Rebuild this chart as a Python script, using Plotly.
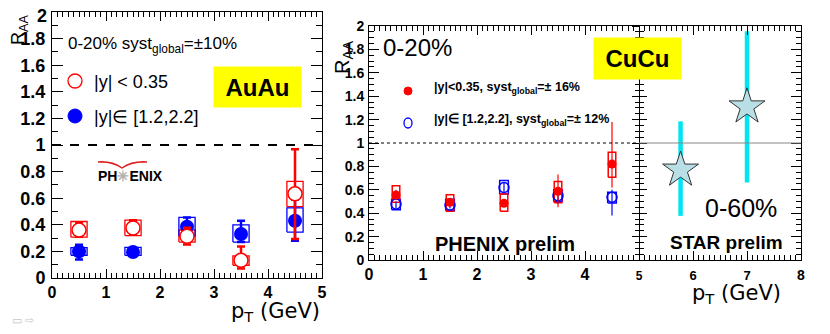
import plotly.graph_objects as go

# The page body has an 8px margin, so the figure is drawn 8px in from the top-left corner.
OFF = 8
W, H = 830 - OFF, 334 - OFF
def px(x): return (x - OFF) / W
def py(y): return 1 - (y - OFF) / H

# ---------------- data ----------------
pt = [0.5, 1.5, 2.5, 3.5, 4.5]

# AuAu 0-20%, |y|<0.35 (red open)
au_mid = [0.36, 0.376, 0.314, 0.133, 0.633]
au_mid_stat_hi = [0.42, 0.435, 0.378, 0.237, 0.968]
au_mid_stat_lo = [0.31, 0.326, 0.252, 0.072, 0.294]
au_mid_sys_hi = [0.425, 0.435, 0.361, 0.166, 0.726]
au_mid_sys_lo = [0.307, 0.319, 0.27, 0.096, 0.536]

# AuAu 0-20%, |y| in [1.2,2.2] (blue filled)
au_fwd = [0.2, 0.196, 0.385, 0.331, 0.43]
au_fwd_stat_hi = [0.25, 0.215, 0.455, 0.43, 0.59]
au_fwd_stat_lo = [0.14, 0.18, 0.33, 0.27, 0.28]
au_fwd_sys_hi = [0.228, 0.23, 0.456, 0.4, 0.527]
au_fwd_sys_lo = [0.171, 0.17, 0.315, 0.27, 0.345]

# CuCu 0-20%, |y|<0.35 (red filled)
cu_mid = [0.556, 0.493, 0.484, 0.587, 0.82]
cu_mid_stat_hi = [0.6, 0.52, 0.51, 0.73, 1.18]
cu_mid_stat_lo = [0.51, 0.46, 0.455, 0.45, 0.62]
cu_mid_sys_hi = [0.635, 0.558, 0.565, 0.67, 0.92]
cu_mid_sys_lo = [0.493, 0.416, 0.416, 0.49, 0.707]

# CuCu 0-20%, |y| in [1.2,2.2] (blue open)
cu_fwd = [0.479, 0.47, 0.62, 0.55, 0.536]
cu_fwd_stat_hi = [0.5, 0.5, 0.66, 0.62, 0.6]
cu_fwd_stat_lo = [0.445, 0.44, 0.58, 0.48, 0.38]
cu_fwd_sys_hi = [0.52, 0.52, 0.68, 0.6, 0.58]
cu_fwd_sys_lo = [0.43, 0.42, 0.564, 0.5, 0.487]

# STAR CuCu 0-60%
star_pt = [5.77, 7.0]
star_raa = [0.77, 1.31]
star_hi = [1.185, 1.956]
star_lo = [0.377, 0.662]

y_ticks = [0, 0.2, 0.4, 0.6, 0.8, 1, 1.2, 1.4, 1.6, 1.8, 2]
y_ticktext = ["0", "0.2", "0.4", "0.6", "0.8", "1", "1.2", "1.4", "1.6", "1.8", "2"]

RED = "#ff0000"
BLUE = "#0000ff"

def up(v, hi): return [h - a for a, h in zip(v, hi)]
def dn(v, lo): return [a - l for a, l in zip(v, lo)]

def boxes(xs, lo, hi, hw):
    bx, by = [], []
    for x, l, h in zip(xs, lo, hi):
        bx += [x - hw, x + hw, x + hw, x - hw, x - hw, None]
        by += [l, l, h, h, l, None]
    return bx, by

fig = go.Figure()

# ---- AuAu panel ----
for lo, hi, col in [(au_mid_sys_lo, au_mid_sys_hi, RED), (au_fwd_sys_lo, au_fwd_sys_hi, BLUE)]:
    bx, by = boxes(pt, lo, hi, 0.15)
    fig.add_trace(go.Scatter(x=bx, y=by, mode="lines", line=dict(color=col, width=1.3),
                             xaxis="x", yaxis="y", hoverinfo="skip", showlegend=False))

fig.add_trace(go.Scatter(x=pt, y=au_fwd, mode="markers", xaxis="x", yaxis="y", showlegend=False,
                         marker=dict(symbol="circle", size=14, color=BLUE),
                         error_y=dict(type="data", array=up(au_fwd, au_fwd_stat_hi),
                                      arrayminus=dn(au_fwd, au_fwd_stat_lo),
                                      color=BLUE, thickness=2.5, width=4)))
fig.add_trace(go.Scatter(x=pt, y=au_mid, mode="markers", xaxis="x", yaxis="y", showlegend=False,
                         marker=dict(symbol="circle", size=14, color="white",
                                     line=dict(color=RED, width=1.5)),
                         error_y=dict(type="data", array=up(au_mid, au_mid_stat_hi),
                                      arrayminus=dn(au_mid, au_mid_stat_lo),
                                      color=RED, thickness=2.5, width=4)))

# ---- CuCu panel ----
for lo, hi, col, hw in [(cu_fwd_sys_lo, cu_fwd_sys_hi, BLUE, 0.08), (cu_mid_sys_lo, cu_mid_sys_hi, RED, 0.07)]:
    bx, by = boxes(pt, lo, hi, hw)
    fig.add_trace(go.Scatter(x=bx, y=by, mode="lines", line=dict(color=col, width=1.5),
                             xaxis="x2", yaxis="y2", hoverinfo="skip", showlegend=False))

fig.add_trace(go.Scatter(x=pt, y=cu_fwd, mode="markers", xaxis="x2", yaxis="y2", showlegend=False,
                         marker=dict(symbol="circle-open", size=10, color=BLUE, line=dict(width=1.5)),
                         error_y=dict(type="data", array=up(cu_fwd, cu_fwd_stat_hi),
                                      arrayminus=dn(cu_fwd, cu_fwd_stat_lo),
                                      color=BLUE, thickness=1.2, width=0)))
fig.add_trace(go.Scatter(x=pt, y=cu_mid, mode="markers", xaxis="x2", yaxis="y2", showlegend=False,
                         marker=dict(symbol="circle", size=9, color=RED),
                         error_y=dict(type="data", array=up(cu_mid, cu_mid_stat_hi),
                                      arrayminus=dn(cu_mid, cu_mid_stat_lo),
                                      color=RED, thickness=1.2, width=0)))

fig.add_trace(go.Scatter(x=star_pt, y=star_raa, mode="markers", xaxis="x2", yaxis="y2", showlegend=False,
                         marker=dict(symbol="star", size=27, color="#b9dfe6",
                                     line=dict(color="#333333", width=1)),
                         error_y=dict(type="data", array=up(star_raa, star_hi),
                                      arrayminus=dn(star_raa, star_lo),
                                      color="#00e6f0", thickness=4.5, width=0)))

# dummy traces for the divider axes at pT = 5
for ya in ["y3", "y4"]:
    fig.add_trace(go.Scatter(x=[5], y=[1], mode="none", xaxis="x2", yaxis=ya,
                             hoverinfo="skip", showlegend=False))

# ---------------- layout ----------------
bold_font = dict(family="Liberation Sans, Arial", color="black", weight="bold")

x2_lo, x2_hi = px(369), px(801)
x_div = x2_lo + 5 / 8 * (x2_hi - x2_lo)

common = dict(showgrid=False, zeroline=False, showline=True, linecolor="black", linewidth=1,
              mirror="ticks", ticks="inside", tickcolor="black", automargin=False,
              ticklabeloverflow="allow")

# the top "2" of the AuAu axis would be clipped at the page edge; it is drawn as an annotation
left_ticktext = y_ticktext[:-1] + [""]

fig.update_layout(
    width=W, height=H, margin=dict(l=0, r=0, t=0, b=0, autoexpand=False),
    paper_bgcolor="white", plot_bgcolor="white", showlegend=False,
    xaxis=dict(domain=[px(52), px(322)], anchor="y", range=[0, 5], tickvals=[0, 1, 2, 3, 4, 5],
               ticklen=9, minor=dict(dtick=0.1, ticklen=5, ticks="inside", tickcolor="black"),
               tickfont=dict(size=16, **bold_font), **common),
    yaxis=dict(domain=[py(278), py(12)], anchor="x", range=[0, 2],
               tickvals=y_ticks, ticktext=left_ticktext,
               ticklen=11, minor=dict(dtick=0.1, ticklen=6, ticks="inside", tickcolor="black"),
               tickfont=dict(size=18, **bold_font),
               ticklabelstandoff=2, **common),
    xaxis2=dict(domain=[x2_lo, x2_hi], anchor="y2", range=[0, 8],
                tickvals=[0, 1, 2, 3, 4, 5, 6, 7, 8],
                ticktext=["0", "1", "2", "3", "4",
                          "<span style='font-size:12px'>5</span>",
                          "<span style='font-size:13px'>6</span>",
                          "<span style='font-size:13px'>7</span>",
                          "<span style='font-size:14px'>8</span>"],
                ticklen=9, minor=dict(dtick=0.1, ticklen=5, ticks="inside", tickcolor="black"),
                tickfont=dict(size=16, **bold_font), **common),
    yaxis2=dict(domain=[py(260), py(26)], anchor="x2", range=[0, 2],
                tickvals=y_ticks, ticktext=y_ticktext,
                ticklen=10, minor=dict(dtick=0.05, ticklen=5, ticks="inside", tickcolor="black"),
                tickfont=dict(size=14, **bold_font), ticklabelstandoff=1, **common),
    yaxis3=dict(overlaying="y2", anchor="free", position=x_div, side="left", range=[0, 2],
                showgrid=False, zeroline=False, showline=True, linecolor="black", linewidth=1,
                ticks="inside", ticklen=7, dtick=0.2, tickcolor="black", automargin=False,
                minor=dict(dtick=0.05, ticklen=4, ticks="inside", tickcolor="black"),
                showticklabels=False),
    yaxis4=dict(overlaying="y2", anchor="free", position=x_div, side="left", range=[0, 2],
                showgrid=False, zeroline=False, showline=False, automargin=False,
                ticks="outside", ticklen=7, dtick=0.2, tickcolor="black",
                minor=dict(dtick=0.05, ticklen=4, ticks="outside", tickcolor="black"),
                showticklabels=False),
)

# reference lines at R_AA = 1
fig.add_shape(type="line", xref="x domain", yref="y", x0=0, x1=1, y0=1, y1=1,
              line=dict(color="black", width=2, dash="dash"))
fig.add_shape(type="line", xref="x2", yref="y2", x0=0, x1=5, y0=1, y1=1,
              line=dict(color="black", width=1, dash="dot"))
fig.add_shape(type="line", xref="x2", yref="y2", x0=5, x1=8, y0=1, y1=1,
              line=dict(color="#888888", width=1.2))

# legend symbols
fig.add_shape(type="circle", xref="paper", yref="paper",
              x0=px(68), x1=px(82), y0=py(88), y1=py(74), line=dict(color=RED, width=1.3),
              fillcolor="white")
fig.add_shape(type="circle", xref="paper", yref="paper",
              x0=px(68), x1=px(82), y0=py(123), y1=py(109), line=dict(color=BLUE, width=1),
              fillcolor=BLUE)
fig.add_shape(type="circle", xref="paper", yref="paper",
              x0=px(404), x1=px(412), y0=py(95), y1=py(87), line=dict(color=RED, width=1),
              fillcolor=RED)
fig.add_shape(type="circle", xref="paper", yref="paper",
              x0=px(404), x1=px(412), y0=py(128), y1=py(118), line=dict(color=BLUE, width=1.3))

# PHENIX logo arc
def P(x, y): return f"{px(x)},{py(y)}"
fig.add_shape(type="path", xref="paper", yref="paper",
              path=f"M {P(98,162)} Q {P(112,161)} {P(122,168)} Q {P(132,161)} {P(147,162)}",
              line=dict(color="#e02020", width=1.5))

ann = []
def A(text, x, y, size, xa="left", ya="middle", family="Liberation Sans, Arial", weight="normal",
      color="black", angle=0, **kw):
    ann.append(dict(text=text, x=px(x), y=py(y), xref="paper", yref="paper", showarrow=False,
                    xanchor=xa, yanchor=ya, textangle=angle,
                    font=dict(size=size, family=family, color=color, weight=weight), **kw))

# AuAu panel text
A(y_ticktext[-1], 49, 16, 18, xa="right", weight="bold")
A("R<sub>AA</sub>", 19, 30, 18, xa="center", angle=-90)
A("0-20% syst<sub>global</sub>=±10%", 66, 45, 17)
A("|y| < 0.35", 92, 82, 18)
A("|y|∈ [1.2,2.2]", 92, 117, 18)
A("<b>AuAu</b>", 257.5, 86.5, 24, xa="center", bgcolor="#ffff00", width=85, height=38)
A("<b>PH<span style='color:#b0b0b0'>✳</span>ENIX</b>", 130, 176, 14, xa="center")
A("p<sub>T</sub> (GeV)", 322, 312, 21, xa="right", family="DejaVu Sans, Verdana")
A("<span style='color:#c8c8c8'>▭ ⇨</span>", 10, 320, 11)

# CuCu panel text
A("R<sub>AA</sub>", 343, 57, 20, xa="center", angle=-90)
A("0-20%", 381, 48, 24)
A("<b>|y|<0.35, syst<sub>global</sub>=± 16%</b>", 432, 88, 12.5)
A("<b>|y|∈ [1.2,2.2], syst<sub>global</sub>=± 12%</b>", 432, 120, 12.5)
A("<b>CuCu</b>", 637.5, 58.5, 24, xa="center", bgcolor="#ffff00", width=85, height=39)
A("<b>PHENIX prelim</b>", 505, 244, 20, xa="center")
A("<b>STAR prelim</b>", 726, 242, 19, xa="center")
A("0-60%", 741, 208, 25, xa="center")
A("p<sub>T</sub> (GeV)", 783, 294, 21, xa="right", family="DejaVu Sans, Verdana")

fig.update_layout(annotations=ann)

fig.write_html("out.html")
